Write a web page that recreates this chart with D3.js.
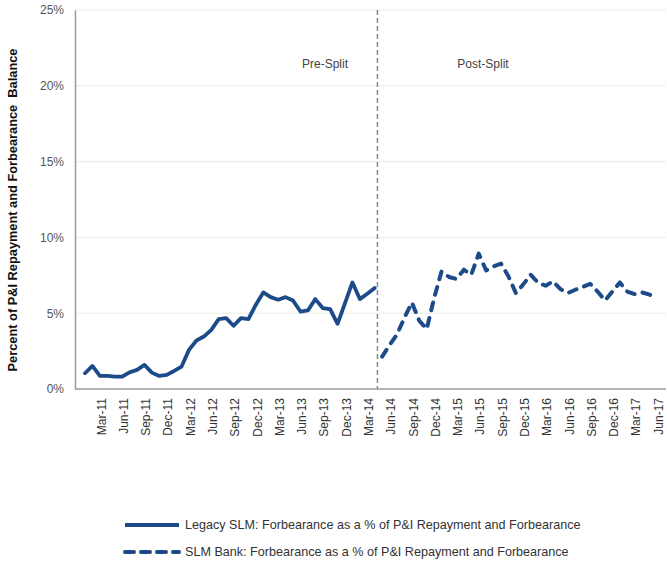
<!DOCTYPE html>
<html><head><meta charset="utf-8">
<script src="https://cdn.jsdelivr.net/npm/d3@7"></script>
<style>
body{margin:0;background:#fff;}
text{font-family:"Liberation Sans",Arial,Helvetica,sans-serif;}
</style></head>
<body><svg id="c" width="667" height="573"></svg>
<script>
const categories = [
"Jan-11","Feb-11","Mar-11","Apr-11","May-11","Jun-11","Jul-11","Aug-11","Sep-11","Oct-11","Nov-11","Dec-11",
"Jan-12","Feb-12","Mar-12","Apr-12","May-12","Jun-12","Jul-12","Aug-12","Sep-12","Oct-12","Nov-12","Dec-12",
"Jan-13","Feb-13","Mar-13","Apr-13","May-13","Jun-13","Jul-13","Aug-13","Sep-13","Oct-13","Nov-13","Dec-13",
"Jan-14","Feb-14","Mar-14","Apr-14","May-14","Jun-14","Jul-14","Aug-14","Sep-14","Oct-14","Nov-14","Dec-14",
"Jan-15","Feb-15","Mar-15","Apr-15","May-15","Jun-15","Jul-15","Aug-15","Sep-15","Oct-15","Nov-15","Dec-15",
"Jan-16","Feb-16","Mar-16","Apr-16","May-16","Jun-16","Jul-16","Aug-16","Sep-16","Oct-16","Nov-16","Dec-16",
"Jan-17","Feb-17","Mar-17","Apr-17","May-17","Jun-17"];
const tickLabels = ["Mar-11","Jun-11","Sep-11","Dec-11","Mar-12","Jun-12","Sep-12","Dec-12","Mar-13","Jun-13","Sep-13","Dec-13","Mar-14",
"Jun-14","Sep-14","Dec-14","Mar-15","Jun-15","Sep-15","Dec-15","Mar-16","Jun-16","Sep-16","Dec-16","Mar-17","Jun-17"];
const legacyCategories = categories.slice(0, 40);   // Jan-11 .. Apr-14
const legacyValues = [1.04,1.52,0.86,0.86,0.81,0.81,1.10,1.26,1.59,1.08,0.86,0.93,1.19,1.48,2.58,3.20,3.46,3.90,4.61,4.67,
4.17,4.67,4.61,5.56,6.37,6.06,5.89,6.06,5.84,5.11,5.18,5.93,5.34,5.27,4.30,5.67,7.03,5.93,6.28,6.66];
const bankCategories = categories.slice(40);        // May-14 .. Jun-17
const bankValues = [2.14,2.90,3.60,4.70,5.70,4.50,3.95,6.00,7.76,7.39,7.26,7.87,7.54,8.93,7.82,8.09,8.27,7.43,6.33,6.90,
7.54,7.00,6.81,7.10,6.59,6.33,6.55,6.73,6.94,6.43,5.84,6.43,7.03,6.43,6.26,6.37,6.22,6.00];
const yTicks = [0,5,10,15,20,25];
const splitLabels = ["Pre-Split","Post-Split"];
const legendLabels = ["Legacy SLM: Forbearance as a % of P&I Repayment and Forbearance",
"SLM Bank: Forbearance as a % of P&I Repayment and Forbearance"];
const yTitle = "Percent of P&I Repayment and Forbearance  Balance";

const blue = "#1d4b89";
const svg = d3.select("#c");
const L = 75, R = 666, T = 10, B = 389;
const x = d3.scalePoint().domain(categories).range([85, 657]);
const y = d3.scaleLinear().domain([0, 25]).range([B, T]);

// gridlines
svg.append("g").selectAll("line").data(yTicks.filter(d => d > 0)).join("line")
  .attr("x1", L).attr("x2", R).attr("y1", d => y(d)).attr("y2", d => y(d))
  .attr("stroke", "#ecebe2").attr("stroke-width", 1);

// y axis
const ya = svg.append("g").attr("transform", `translate(${L},0)`)
  .call(d3.axisLeft(y).tickValues(yTicks).tickFormat(d => d + "%").tickSize(0).tickPadding(11));
ya.select(".domain").attr("stroke", "#9a9a9a").attr("stroke-width", 1.5);
ya.selectAll("text").attr("font-size", 12).attr("fill", "#555");

// x axis
const xa = svg.append("g").attr("transform", `translate(0,${B})`)
  .call(d3.axisBottom(x).tickValues(tickLabels).tickSize(0));
xa.select(".domain").remove();
xa.selectAll("text").attr("transform", "rotate(-90)").attr("text-anchor", "end")
  .attr("x", -9).attr("y", 1).attr("dy", "0.35em").attr("font-size", 12).attr("fill", "#333");
svg.append("line").attr("x1", L).attr("x2", R).attr("y1", B).attr("y2", B)
  .attr("stroke", "#9a9a9a").attr("stroke-width", 1.5);

// split line
const splitX = (x(legacyCategories[legacyCategories.length - 1]) + x(bankCategories[0])) / 2 - 1;
svg.append("line").attr("x1", splitX).attr("x2", splitX).attr("y1", T).attr("y2", B)
  .attr("stroke", "#8a8a8a").attr("stroke-width", 1.5).attr("stroke-dasharray", "5,3");
svg.append("text").attr("x", 325).attr("y", 68).attr("text-anchor", "middle")
  .attr("font-size", 12).attr("fill", "#444").text(splitLabels[0]);
svg.append("text").attr("x", 483).attr("y", 68).attr("text-anchor", "middle")
  .attr("font-size", 12).attr("fill", "#444").text(splitLabels[1]);

// lines
const line = d3.line().x(d => x(d[0])).y(d => y(d[1]));
svg.append("path").datum(legacyCategories.map((c, i) => [c, legacyValues[i]]))
  .attr("d", line).attr("fill", "none").attr("stroke", blue).attr("stroke-width", 3.8)
  .attr("stroke-linejoin", "round").attr("stroke-linecap", "round");
svg.append("path").datum(bankCategories.map((c, i) => [c, bankValues[i]]))
  .attr("d", line).attr("fill", "none").attr("stroke", blue).attr("stroke-width", 4)
  .attr("stroke-linejoin", "round").attr("stroke-linecap", "round").attr("stroke-dasharray", "8,8");

// y title
svg.append("text").attr("transform", "translate(17,210) rotate(-90)").attr("text-anchor", "middle")
  .attr("font-size", 12.8).attr("font-weight", "bold").attr("fill", "#111")
  .attr("xml:space", "preserve").style("white-space", "pre").text(yTitle);

// legend
const lg = svg.append("g");
[0, 1].forEach(i => {
  const ly = i === 0 ? 525 : 552;
  lg.append("line").attr("x1", 125).attr("x2", 179).attr("y1", ly).attr("y2", ly)
    .attr("stroke", blue).attr("stroke-width", 4).attr("stroke-linecap", i ? "round" : "butt")
    .attr("stroke-dasharray", i ? "9,7" : null);
  lg.append("text").attr("x", 185).attr("y", ly).attr("dy", "0.35em")
    .attr("font-size", 12.6).attr("fill", "#333").text(legendLabels[i]);
});
</script></body></html>
